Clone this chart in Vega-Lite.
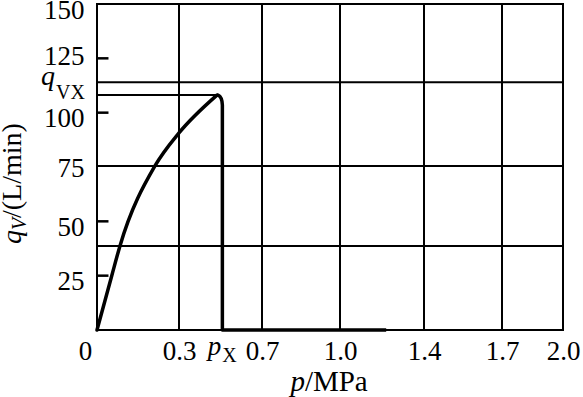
{
  "$schema": "https://vega.github.io/schema/vega-lite/v6.json",
  "width": 466,
  "height": 326,
  "autosize": {"type": "none"},
  "padding": {"left": 97, "top": 4, "right": 20, "bottom": 67},
  "config": {
    "view": {"stroke": "black", "strokeWidth": 2},
    "font": "Liberation Serif",
    "axis": {"domain": false, "grid": false, "labelFont": "Liberation Serif", "labelFontSize": 27, "labelColor": "black", "tickColor": "black", "title": null}
  },
  "datasets": {
    "vgrid": [{"p": 0.3}, {"p": 0.7}, {"p": 1.0}, {"p": 1.4}, {"p": 1.7}],
    "hgrid": [{"q": 38.7}, {"q": 75.5}, {"q": 114}],
    "yticks": [
      {"p0": 0, "p1": 0.042, "q": 25},
      {"p0": 0, "p1": 0.042, "q": 50},
      {"p0": 0, "p1": 0.042, "q": 100},
      {"p0": 0, "p1": 0.042, "q": 125}
    ],
    "qvx": [{"p0": 0, "p1": 0.483, "q": 108.1}],
    "curve": [
      {"i": 0, "p": 0, "q": 0},
      {"i": 1, "p": 0.054, "q": 25},
      {"i": 2, "p": 0.084, "q": 38.7},
      {"i": 3, "p": 0.212, "q": 75.5},
      {"i": 4, "p": 0.3, "q": 90.7},
      {"i": 5, "p": 0.483, "q": 108.1}
    ],
    "drop": [
      {"i": 0, "p": 0.483, "q": 108.1},
      {"i": 1, "p": 0.490, "q": 108.0},
      {"i": 2, "p": 0.497, "q": 107.5},
      {"i": 3, "p": 0.503, "q": 106.6},
      {"i": 4, "p": 0.507, "q": 105.3},
      {"i": 5, "p": 0.509, "q": 103.5},
      {"i": 6, "p": 0.509, "q": 0},
      {"i": 7, "p": 1.22, "q": 0}
    ]
  },
  "layer": [
    {
      "data": {"name": "vgrid"},
      "mark": {"type": "rule", "color": "black", "strokeWidth": 2},
      "encoding": {
        "x": {
          "field": "p", "type": "quantitative",
          "scale": {"domain": [0, 0.3, 0.7, 1.0, 1.4, 1.7, 2.0], "range": [0, 82, 165, 243, 327, 405, 466], "zero": false, "nice": false},
          "axis": {
            "values": [0, 0.3, 0.7, 1.0, 1.4, 1.7, 2.0],
            "ticks": false,
            "labelPadding": 8,
            "labelFlush": false,
            "labelOverlap": false,
            "format": ".1f",
            "labelExpr": "datum.value == 0 ? '0' : datum.label",
            "labelOffset": {"condition": {"test": "datum.value == 0", "value": -12}, "value": 0}
          }
        }
      }
    },
    {
      "data": {"name": "hgrid"},
      "mark": {"type": "rule", "color": "black", "strokeWidth": 2},
      "encoding": {
        "y": {
          "field": "q", "type": "quantitative",
          "scale": {"domain": [0, 150], "nice": false},
          "axis": {
            "values": [25, 50, 75, 100, 125, 150],
            "ticks": false,
            "labelPadding": 13,
            "labelBaseline": "middle",
            "labelOffset": {"condition": [
              {"test": "datum.value == 125", "value": -2},
              {"test": "datum.value == 75", "value": 1}
            ], "value": 6}
          }
        }
      }
    },
    {
      "data": {"name": "yticks"},
      "mark": {"type": "rule", "color": "black", "strokeWidth": 2.5},
      "encoding": {
        "x": {"field": "p0", "type": "quantitative"},
        "x2": {"field": "p1"},
        "y": {"field": "q", "type": "quantitative"}
      }
    },
    {
      "data": {"name": "qvx"},
      "mark": {"type": "rule", "color": "black", "strokeWidth": 2},
      "encoding": {
        "x": {"field": "p0", "type": "quantitative"},
        "x2": {"field": "p1"},
        "y": {"field": "q", "type": "quantitative"}
      }
    },
    {
      "data": {"name": "curve"},
      "mark": {"type": "line", "color": "black", "strokeWidth": 3.5, "interpolate": "monotone", "strokeCap": "round"},
      "encoding": {
        "x": {"field": "p", "type": "quantitative"},
        "y": {"field": "q", "type": "quantitative"},
        "order": {"field": "i", "type": "quantitative"}
      }
    },
    {
      "data": {"name": "drop"},
      "mark": {"type": "line", "color": "black", "strokeWidth": 3.5, "strokeJoin": "round", "strokeCap": "butt"},
      "encoding": {
        "x": {"field": "p", "type": "quantitative"},
        "y": {"field": "q", "type": "quantitative"},
        "order": {"field": "i", "type": "quantitative"}
      }
    },
    {
      "data": {"values": [{"p": 0.508, "q": 0, "t": "p"}]},
      "mark": {"type": "text", "font": "Liberation Serif", "fontSize": 27, "fontStyle": "italic", "align": "right", "baseline": "alphabetic", "dx": -1, "dy": 25, "color": "black"},
      "encoding": {"x": {"field": "p", "type": "quantitative"}, "y": {"field": "q", "type": "quantitative"}, "text": {"field": "t"}}
    },
    {
      "data": {"values": [{"p": 0.508, "q": 0, "t": "X"}]},
      "mark": {"type": "text", "font": "Liberation Serif", "fontSize": 20, "align": "left", "baseline": "alphabetic", "dx": 0, "dy": 32, "color": "black"},
      "encoding": {"x": {"field": "p", "type": "quantitative"}, "y": {"field": "q", "type": "quantitative"}, "text": {"field": "t"}}
    },
    {
      "data": {"values": [{"p": 0.865, "q": 0, "t": "p"}]},
      "mark": {"type": "text", "font": "Liberation Serif", "fontSize": 29, "fontStyle": "italic", "align": "right", "baseline": "alphabetic", "dy": 61, "color": "black"},
      "encoding": {"x": {"field": "p", "type": "quantitative"}, "y": {"field": "q", "type": "quantitative"}, "text": {"field": "t"}}
    },
    {
      "data": {"values": [{"p": 0.865, "q": 0, "t": "/MPa"}]},
      "mark": {"type": "text", "font": "Liberation Serif", "fontSize": 29, "align": "left", "baseline": "alphabetic", "dy": 61, "color": "black"},
      "encoding": {"x": {"field": "p", "type": "quantitative"}, "y": {"field": "q", "type": "quantitative"}, "text": {"field": "t"}}
    },
    {
      "data": {"values": [{"p": 0, "q": 108.1, "t": "q"}]},
      "mark": {"type": "text", "font": "Liberation Serif", "fontSize": 28, "fontStyle": "italic", "align": "right", "baseline": "alphabetic", "dx": -42, "dy": -10, "color": "black"},
      "encoding": {"x": {"field": "p", "type": "quantitative"}, "y": {"field": "q", "type": "quantitative"}, "text": {"field": "t"}}
    },
    {
      "data": {"values": [{"p": 0, "q": 108.1, "t": "VX"}]},
      "mark": {"type": "text", "font": "Liberation Serif", "fontSize": 20, "align": "left", "baseline": "alphabetic", "dx": -41, "dy": 4, "color": "black"},
      "encoding": {"x": {"field": "p", "type": "quantitative"}, "y": {"field": "q", "type": "quantitative"}, "text": {"field": "t"}}
    },
    {
      "data": {"values": [{"p": 0, "q": 46, "t": "q"}]},
      "mark": {"type": "text", "font": "Liberation Serif", "fontSize": 28, "fontStyle": "italic", "angle": 270, "align": "right", "baseline": "alphabetic", "dx": 0, "dy": -76, "color": "black"},
      "encoding": {"x": {"field": "p", "type": "quantitative"}, "y": {"field": "q", "type": "quantitative"}, "text": {"field": "t"}}
    },
    {
      "data": {"values": [{"p": 0, "q": 46, "t": "V"}]},
      "mark": {"type": "text", "font": "Liberation Serif", "fontSize": 20, "fontStyle": "italic", "angle": 270, "align": "left", "baseline": "alphabetic", "dx": 0, "dy": -71, "color": "black"},
      "encoding": {"x": {"field": "p", "type": "quantitative"}, "y": {"field": "q", "type": "quantitative"}, "text": {"field": "t"}}
    },
    {
      "data": {"values": [{"p": 0, "q": 46, "t": "/(L/min)"}]},
      "mark": {"type": "text", "font": "Liberation Serif", "fontSize": 28, "angle": 270, "align": "left", "baseline": "alphabetic", "dx": 12, "dy": -76, "color": "black"},
      "encoding": {"x": {"field": "p", "type": "quantitative"}, "y": {"field": "q", "type": "quantitative"}, "text": {"field": "t"}}
    }
  ]
}
